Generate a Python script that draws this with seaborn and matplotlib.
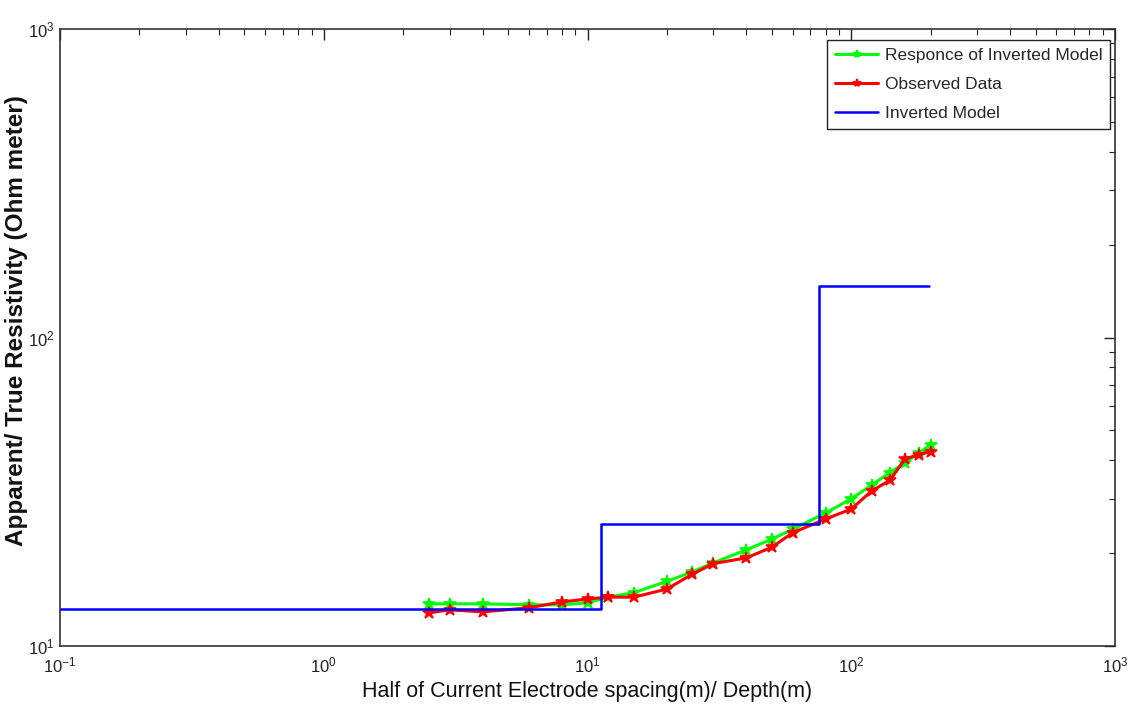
import numpy as np
import pandas as pd
import matplotlib
matplotlib.use("Agg")
import matplotlib.pyplot as plt
import seaborn as sns
from matplotlib.ticker import LogLocator, FuncFormatter

# Data
spacing = [2.5, 3, 4, 6, 8, 10, 12, 15, 20, 25, 30, 40, 50, 60, 80, 100, 120, 140, 160, 180, 200]
response = [13.7, 13.7, 13.7, 13.6, 13.6, 13.8, 14.4, 14.9, 16.2, 17.4, 18.6, 20.5, 22.2, 23.9, 27.0,
            30.0, 33.3, 36.5, 39.2, 42.2, 44.9]
observed = [12.8, 13.1, 12.9, 13.3, 13.9, 14.2, 14.4, 14.4, 15.3, 17.1, 18.5, 19.3, 20.9, 23.3, 25.8,
            27.8, 31.9, 34.4, 40.4, 41.7, 42.7]
model_depth = [0.1, 11.3, 75.2, 197]
model_rho = [13.2, 24.9, 146.5, 146.5]

sns.set_style("white")
plt.rcParams['font.family'] = ['Liberation Sans', 'DejaVu Sans']
plt.rcParams['mathtext.fontset'] = 'custom'
plt.rcParams['mathtext.rm'] = 'Liberation Sans'
plt.rcParams['mathtext.it'] = 'Liberation Sans'
plt.rcParams['mathtext.bf'] = 'Liberation Sans:bold'
plt.rcParams['axes.unicode_minus'] = False

fig = plt.figure(figsize=(11.28, 7.13), dpi=100)
ax = fig.add_axes([60/1128, 67/713, (1115-60)/1128, (646-29)/713])

df_resp = pd.DataFrame({"x": spacing, "y": response})
df_obs = pd.DataFrame({"x": spacing, "y": observed})
df_mod = pd.DataFrame({"x": model_depth, "y": model_rho})

sns.lineplot(data=df_resp, x="x", y="y", ax=ax, color=(0, 1, 0), lw=2.2, marker="*",
             markersize=9, markeredgewidth=1.2, markeredgecolor=(0, 1, 0),
             label="Responce of Inverted Model")
sns.lineplot(data=df_obs, x="x", y="y", ax=ax, color=(1, 0, 0), lw=2.2, marker="*",
             markersize=9, markeredgewidth=1.2, markeredgecolor=(1, 0, 0),
             label="Observed Data")
sns.lineplot(data=df_mod, x="x", y="y", ax=ax, color=(0, 0, 1), lw=1.8,
             drawstyle="steps-post", label="Inverted Model")

ax.set_xscale("log")
ax.set_yscale("log")
ax.set_xlim(0.1, 1000)
ax.set_ylim(10, 1000)
ax.xaxis.set_major_locator(LogLocator(base=10, numticks=10))
ax.yaxis.set_major_locator(LogLocator(base=10, numticks=10))
ax.xaxis.set_minor_locator(LogLocator(base=10, subs=np.arange(2, 10), numticks=20))
ax.yaxis.set_minor_locator(LogLocator(base=10, subs=np.arange(2, 10), numticks=20))
fmt = FuncFormatter(lambda v, p: r"$\mathregular{10^{%d}}$" % int(round(np.log10(v))))
ax.xaxis.set_major_formatter(fmt)
ax.yaxis.set_major_formatter(fmt)

ax.tick_params(which="both", direction="in", top=True, right=True, colors="#222222",
               labelcolor="#222222", labelsize=12)
ax.tick_params(which="major", length=8, width=1)
ax.tick_params(which="minor", length=4, width=0.8)
ax.tick_params(axis="x", which="major", pad=7)
ax.tick_params(axis="y", which="major", pad=4)
for s in ax.spines.values():
    s.set_color("#333333")
    s.set_linewidth(1.2)

ax.set_xlabel("Half of Current Electrode spacing(m)/ Depth(m)", fontsize=15.5, color="#111111", labelpad=4)
ax.set_ylabel("Apparent/ True Resistivity (Ohm meter)", fontsize=17.5, fontweight="bold",
              color="#111111")
ax.yaxis.set_label_coords(-0.030, 0.527)

leg = ax.legend(loc="upper right", bbox_to_anchor=(1 - 5/1055, 1 - 11/617), fontsize=12.5,
                frameon=True, fancybox=False, framealpha=1, edgecolor="#222222",
                borderaxespad=0.0, handlelength=2.5, borderpad=0.45,
                labelspacing=0.8, handletextpad=0.35)
leg.get_frame().set_linewidth(1.0)
for h in leg.legend_handles:
    h.set_markersize(6)

fig.savefig("out.png", dpi=100)
